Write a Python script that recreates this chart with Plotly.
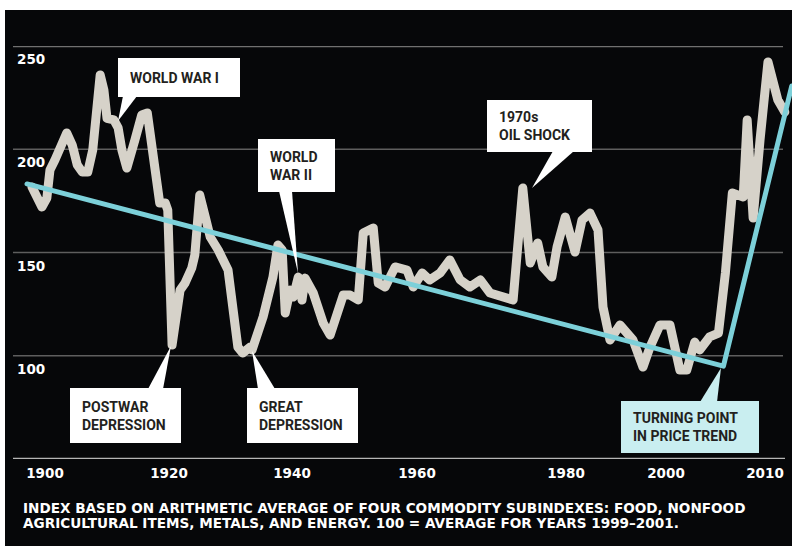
import numpy as np
import plotly.graph_objects as go

# ---------------- data ----------------
YEARS = [1897.9, 1898.9, 1899.5, 1900.3, 1900.8, 1901.6, 1902.7, 1903.5, 1904.4, 1905.2,
         1906.0, 1906.9, 1907.7, 1908.9, 1909.5, 1910.0, 1911.1, 1911.8, 1912.4, 1913.2,
         1914.5, 1915.6, 1916.5, 1917.3, 1917.9, 1918.5, 1919.4, 1919.8, 1920.5, 1921.8,
         1922.6, 1923.7, 1924.2, 1925.0, 1925.9, 1926.7, 1928.0, 1929.1, 1929.6, 1931.2,
         1932.0, 1933.2, 1933.5, 1935.3, 1936.9, 1937.7, 1938.4, 1938.9, 1939.7, 1940.2,
         1941.0, 1941.6, 1942.1, 1943.4, 1945.0, 1946.1, 1947.2, 1948.2, 1949.3, 1950.6,
         1951.4, 1953.0, 1953.8, 1954.9, 1956.5, 1958.4, 1959.4, 1960.7, 1961.7, 1963.1,
         1964.4, 1965.8, 1967.1, 1968.5, 1969.8, 1971.1, 1972.9, 1974.2, 1975.2, 1976.2,
         1976.9, 1978.1, 1978.8, 1979.9, 1981.8, 1983.2, 1984.8, 1986.4, 1987.4, 1988.8,
         1990.8, 1993.4, 1995.4, 1996.8, 1998.8, 2000.4, 2001.4, 2002.1, 2002.9, 2003.4,
         2004.4, 2005.3, 2006.0, 2006.7, 2007.8, 2008.2, 2008.8, 2009.5, 2010.3, 2011.3,
         2012.0]
INDEX = [181.7, 175.4, 172.0, 176.4, 190.0, 194.8, 202.0, 207.9, 202.0, 192.4,
         189.0, 189.0, 199.6, 236.0, 228.7, 215.0, 214.2, 210.3, 199.6, 190.9,
         204.5, 216.6, 217.6, 199.6, 185.1, 174.0, 174.0, 170.6, 105.2, 131.8,
         135.2, 142.5, 148.8, 177.8, 167.2, 157.5, 151.2, 144.1, 141.5, 104.2,
         101.3, 104.2, 102.8, 118.8, 138.1, 153.6, 151.2, 120.7, 131.8, 128.4,
         138.1, 127.0, 137.6, 130.4, 115.8, 110.0, 118.8, 129.4, 129.4, 127.0,
         159.4, 161.9, 135.2, 133.3, 143.0, 141.5, 133.3, 140.1, 136.7, 140.1,
         146.4, 136.7, 133.3, 136.7, 130.4, 129.4, 127.0, 181.2, 144.9, 154.6,
         143.0, 138.1, 152.7, 167.2, 150.2, 165.7, 169.1, 160.9, 123.6, 107.6,
         114.9, 107.6, 94.5, 104.2, 114.9, 114.9, 93.1, 93.1, 106.6, 102.8,
         109.1, 111.0, 140.1, 178.8, 176.9, 214.2, 166.7, 204.5, 242.3, 223.8,
         218.0]

TREND_YEARS = [1897.1, 2005.8, 2012.7]
TREND_VALUES = [183.2, 95.0, 230.6]

TICK_YEARS = [1900, 1920, 1940, 1960, 1980, 2000, 2010]
Y_TICKS = [100, 150, 200, 250]

CALLOUT_TEXTS = ["WORLD WAR I", "WORLD<br>WAR II", "1970s<br>OIL SHOCK",
                 "POSTWAR<br>DEPRESSION", "GREAT<br>DEPRESSION", "TURNING POINT<br>IN PRICE TREND"]

NOTE_LINES = ["INDEX BASED ON ARITHMETIC AVERAGE OF FOUR COMMODITY SUBINDEXES: FOOD, NONFOOD",
              "AGRICULTURAL ITEMS, METALS, AND ENERGY. 100 = AVERAGE FOR YEARS 1999\u20132001."]

# ---------------- layout / scale ----------------
W, H = 792, 546
PLOT_L, PLOT_R, PLOT_T, PLOT_B = 5, 792, 46, 459
# the original chart's own (non-uniform) horizontal scale: pixel position of each tick year
TICK_POS = [45, 169, 292, 417, 566, 666, 765]


def xpos(years):
    yrs = np.atleast_1d(np.asarray(years, float))
    ty = np.array(TICK_YEARS, float)
    tp = np.array(TICK_POS, float)
    out = np.interp(yrs, ty, tp)
    lo = yrs < ty[0]
    hi = yrs > ty[-1]
    out[lo] = tp[0] + (yrs[lo] - ty[0]) * (tp[1] - tp[0]) / (ty[1] - ty[0])
    out[hi] = tp[-1] + (yrs[hi] - ty[-1]) * (tp[-1] - tp[-2]) / (ty[-1] - ty[-2])
    return out


def px(x):
    return (x - PLOT_L) / (PLOT_R - PLOT_L)


def py(y):
    return (PLOT_B - y) / (PLOT_B - PLOT_T)


BG = "#060709"
GREY_LINE = "#d6d2c9"
CYAN = "#7cd0d9"
BOX_TXT = "#231f20"
TICK_FONT = dict(family="DejaVu Sans", size=13.5, color="white", weight="bold")
NOTE_FONT = dict(family="DejaVu Sans", size=13.6, color="white", weight="bold")
BOX_FONT = dict(family="Roboto", size=14, color=BOX_TXT, weight="bold")

fig = go.Figure()
fig.add_trace(go.Scatter(x=xpos(YEARS), y=INDEX, mode="lines",
                         line=dict(color=GREY_LINE, width=9), hoverinfo="skip",
                         showlegend=False))
fig.add_trace(go.Scatter(x=xpos(TREND_YEARS), y=TREND_VALUES, mode="lines",
                         line=dict(color=CYAN, width=5), hoverinfo="skip",
                         showlegend=False))

shapes = []
# white strips at top/left of the cropped figure
shapes.append(dict(type="rect", xref="paper", yref="paper", x0=px(0), x1=px(W), y0=py(0), y1=py(10),
                   fillcolor="white", line=dict(width=0), layer="above"))
shapes.append(dict(type="rect", xref="paper", yref="paper", x0=px(0), x1=px(5), y0=py(0), y1=py(H),
                   fillcolor="white", line=dict(width=0), layer="above"))
# grid lines
for v in Y_TICKS:
    if v == 250:
        col, wd = "#707070", 2.5
    else:
        col, wd = "#5e5e5e", 1.5
    shapes.append(dict(type="line", xref="paper", yref="y", x0=px(13), x1=px(783), y0=v, y1=v,
                       line=dict(color=col, width=wd), layer="below"))
shapes.append(dict(type="line", xref="paper", yref="y", x0=px(13), x1=px(785), y0=50, y1=50,
                   line=dict(color="#b5b5b5", width=2.5), layer="above"))

annotations = []


def callout(text, x0, y0, x1, y1, base, tip, fill="white"):
    shapes.append(dict(type="path", xref="paper", yref="paper",
                       path="M {} {} L {} {} L {} {} Z".format(px(base[0]), py(base[1]), px(base[2]), py(base[3]),
                                                            px(tip[0]), py(tip[1])),
                       fillcolor=fill, line=dict(width=0), layer="above"))
    shapes.append(dict(type="rect", xref="paper", yref="paper", x0=px(x0), x1=px(x1), y0=py(y1), y1=py(y0),
                       fillcolor=fill, line=dict(width=0), layer="above"))
    annotations.append(dict(text=text, xref="paper", yref="paper", x=px(x0 + 10), y=py((y0 + y1) / 2),
                            xanchor="left", yanchor="middle", align="left", showarrow=False,
                            font=BOX_FONT))


callout(CALLOUT_TEXTS[0], 118, 58, 240, 97, (123, 96, 137, 96), (118, 121))
callout(CALLOUT_TEXTS[1], 258, 139, 335, 192, (279, 191, 292, 191), (298, 273))
callout(CALLOUT_TEXTS[2], 487, 100, 592, 152, (553, 151, 574, 151), (532, 188))
callout(CALLOUT_TEXTS[3], 70, 388, 181, 443, (148, 389, 163, 389), (171, 346))
callout(CALLOUT_TEXTS[4], 247, 388, 358, 443, (258, 389, 275, 389), (252, 351))
callout(CALLOUT_TEXTS[5], 621, 401, 759, 453, (700, 402, 717, 402), (721, 368), fill="#c9eef0")

# y tick labels sit just below their grid lines
for v in Y_TICKS:
    annotations.append(dict(text=str(v), xref="paper", yref="y", x=px(15), y=v, yshift=-13,
                            xanchor="left", yanchor="middle", showarrow=False, font=TICK_FONT))

# note
for i, t in enumerate(NOTE_LINES):
    annotations.append(dict(text=t, xref="paper", yref="paper", x=px(21), y=py(508 + 15 * i),
                            xanchor="left", yanchor="middle", showarrow=False, font=NOTE_FONT))

fig.update_layout(
    width=W, height=H,
    margin=dict(l=PLOT_L, r=W - PLOT_R, t=PLOT_T, b=H - PLOT_B, pad=0),
    paper_bgcolor=BG, plot_bgcolor=BG,
    showlegend=False,
    shapes=shapes, annotations=annotations,
    xaxis=dict(range=[PLOT_L, PLOT_R], showgrid=False, zeroline=False, showline=False,
               tickmode="array", tickvals=xpos(TICK_YEARS), ticktext=[str(y) for y in TICK_YEARS],
               tickfont=TICK_FONT, ticks="outside", ticklen=2, tickcolor="rgba(0,0,0,0)",
               fixedrange=True),
    yaxis=dict(range=[50, 250], showgrid=False, zeroline=False, showline=False,
               showticklabels=False, fixedrange=True),
)

ROUND_JOINS = """
document.querySelectorAll('.scatterlayer path.js-line').forEach(function(p){
  p.style.strokeLinejoin = 'round';
  p.style.strokeLinecap = 'round';
});
"""

fig.write_html("out.html", config={"displayModeBar": False}, post_script=ROUND_JOINS)
